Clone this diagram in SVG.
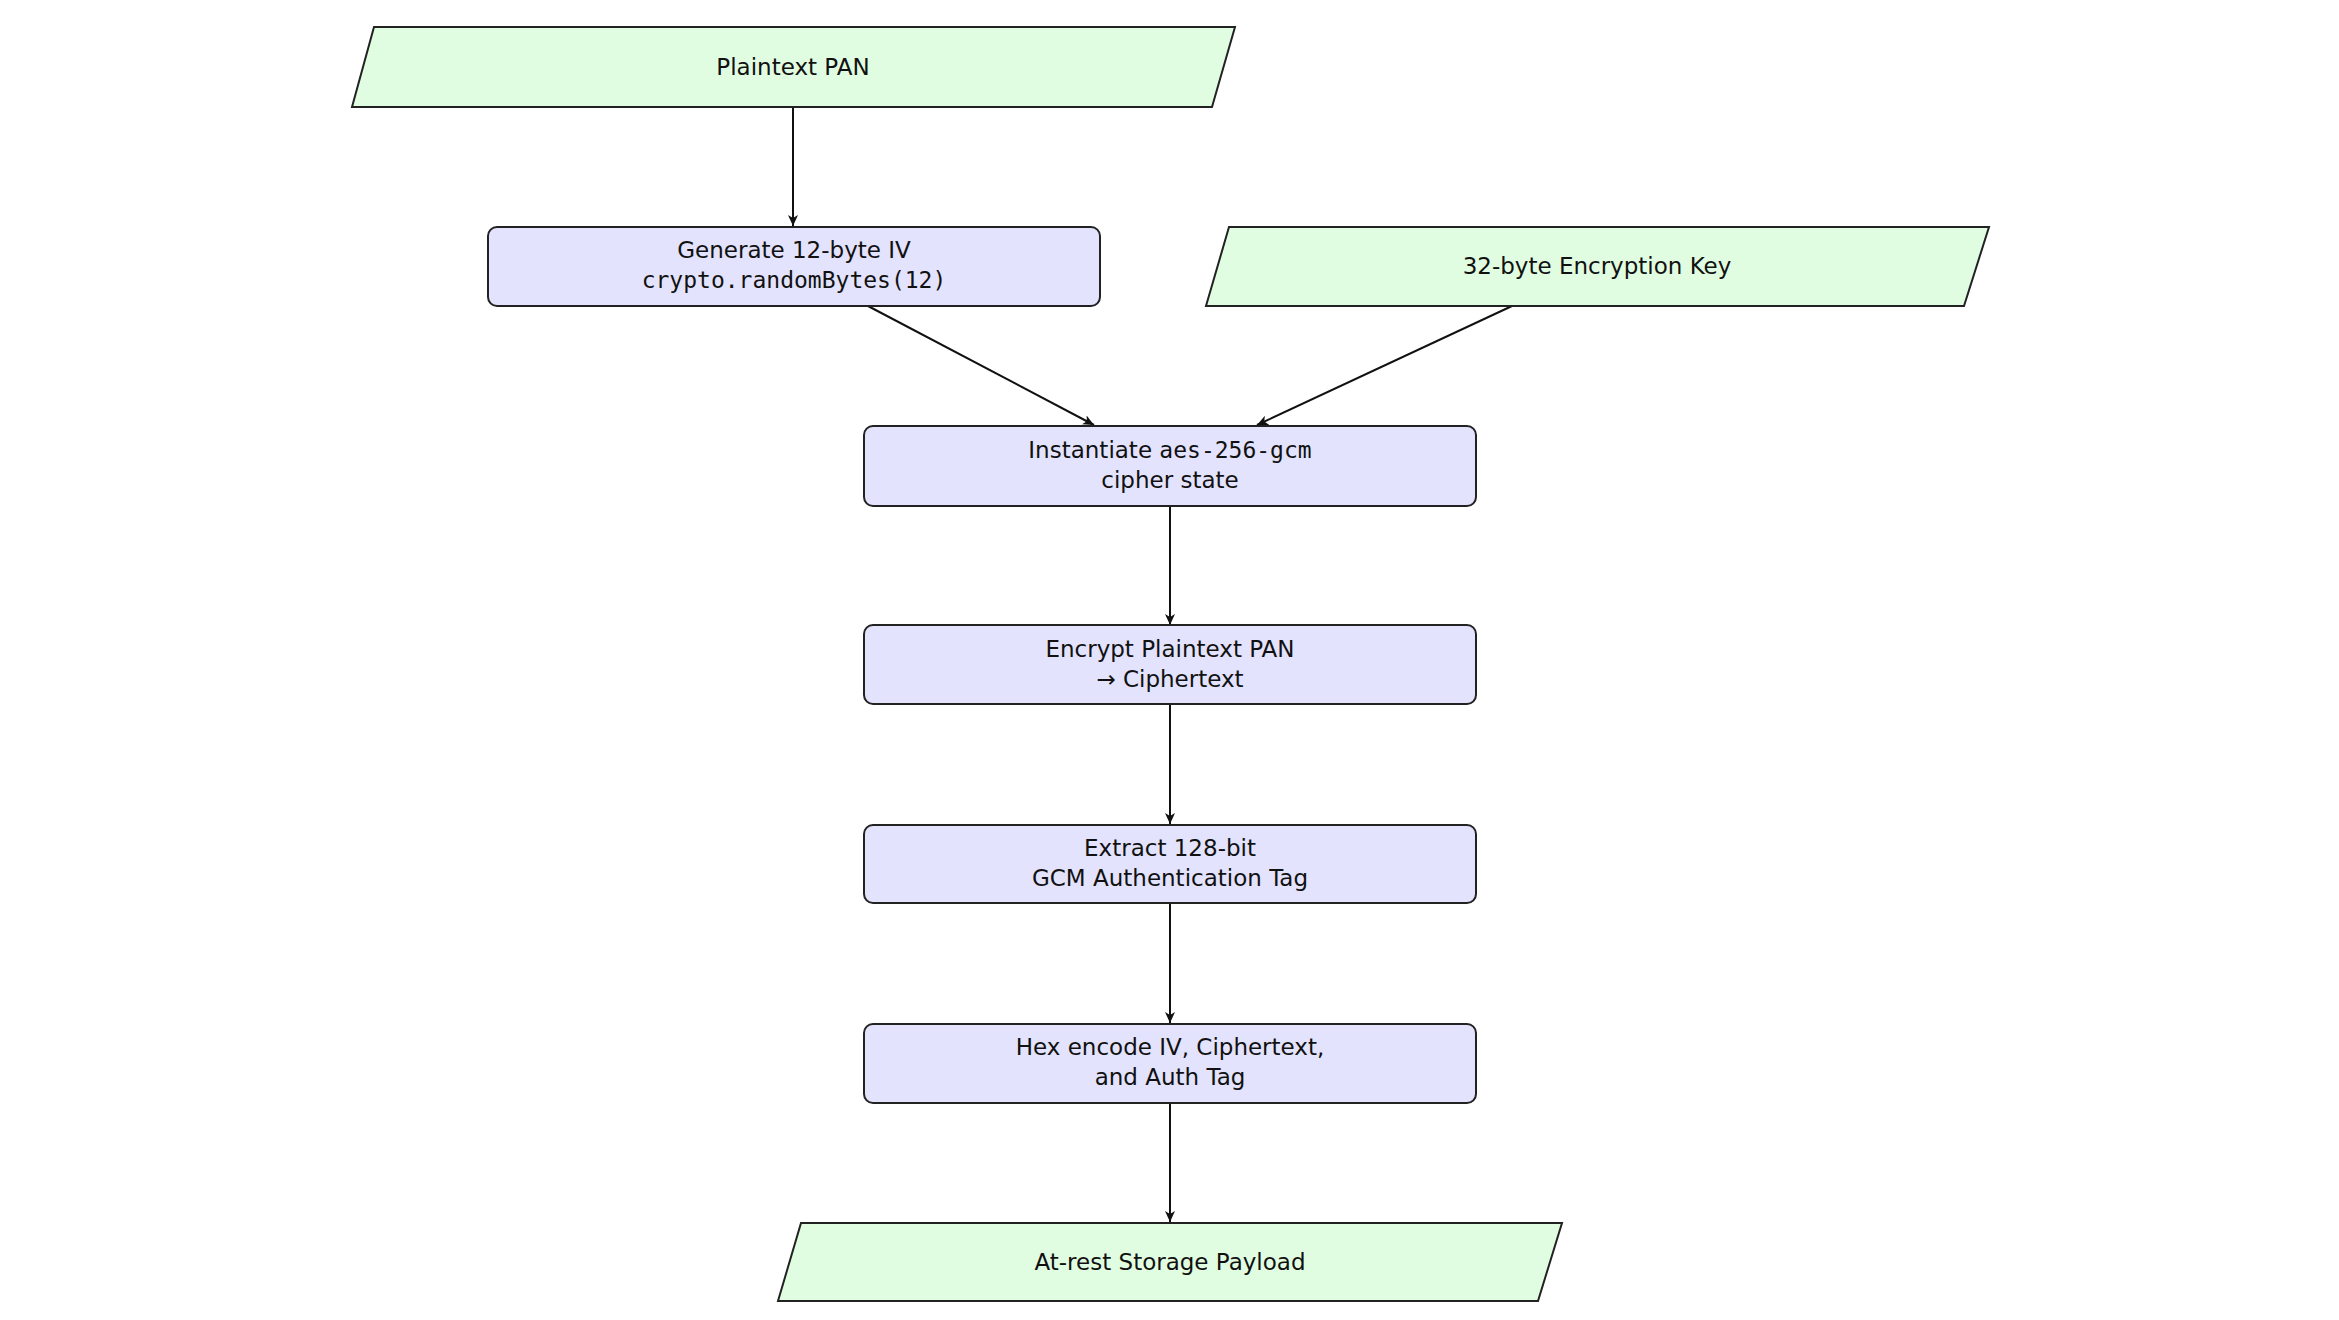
<svg xmlns="http://www.w3.org/2000/svg" width="2339" height="1320" viewBox="0 0 2339 1320">
<style>
.io{fill:#e1fde1;stroke:#222;stroke-width:2}
.pr{fill:#e3e3fd;stroke:#222;stroke-width:2}
text{font-family:"DejaVu Sans","Noto Sans",sans-serif;font-size:23px;fill:#111;text-anchor:middle}
.m{font-family:"DejaVu Sans Mono","Liberation Mono",monospace}
.c{stroke:#111;stroke-width:2;fill:none;marker-end:url(#a)}
</style>
<defs><marker id="a" markerWidth="12" markerHeight="10" refX="11" refY="5" orient="auto" markerUnits="userSpaceOnUse"><path d="M0,0 L11,5 L0,10 L3,5 Z" fill="#111"/></marker></defs>
<rect width="2339" height="1320" fill="#fff"/>
<g id="connectors">
<line class="c" x1="793" y1="107" x2="793" y2="226"/>
<line class="c" x1="868" y1="306" x2="1094" y2="425"/>
<line class="c" x1="1512" y1="306" x2="1257" y2="425"/>
<line class="c" x1="1170" y1="506" x2="1170" y2="625"/>
<line class="c" x1="1170" y1="704" x2="1170" y2="824"/>
<line class="c" x1="1170" y1="903" x2="1170" y2="1023"/>
<line class="c" x1="1170" y1="1103" x2="1170" y2="1222"/>
</g>
<g id="pan"><polygon class="io" points="374,27 1235,27 1212,107 352,107"/><text x="793" y="75">Plaintext PAN</text></g>
<g id="iv"><rect class="pr" x="488" y="227" width="612" height="79" rx="9"/><text x="794" y="258">Generate 12-byte IV</text><text class="m" x="794" y="288">crypto.randomBytes(12)</text></g>
<g id="key"><polygon class="io" points="1229,227 1989,227 1964,306 1206,306"/><text x="1597" y="274">32-byte Encryption Key</text></g>
<g id="cipher"><rect class="pr" x="864" y="426" width="612" height="80" rx="9"/><text x="1170" y="458">Instantiate <tspan class="m">aes-256-gcm</tspan></text><text x="1170" y="488">cipher state</text></g>
<g id="encrypt"><rect class="pr" x="864" y="625" width="612" height="79" rx="9"/><text x="1170" y="657">Encrypt Plaintext PAN</text><text x="1170" y="687">→ Ciphertext</text></g>
<g id="tag"><rect class="pr" x="864" y="825" width="612" height="78" rx="9"/><text x="1170" y="856">Extract 128-bit</text><text x="1170" y="886">GCM Authentication Tag</text></g>
<g id="hex"><rect class="pr" x="864" y="1024" width="612" height="79" rx="9"/><text x="1170" y="1055">Hex encode IV, Ciphertext,</text><text x="1170" y="1085">and Auth Tag</text></g>
<g id="payload"><polygon class="io" points="801,1223 1562,1223 1538,1301 778,1301"/><text x="1170" y="1270">At-rest Storage Payload</text></g>
</svg>
